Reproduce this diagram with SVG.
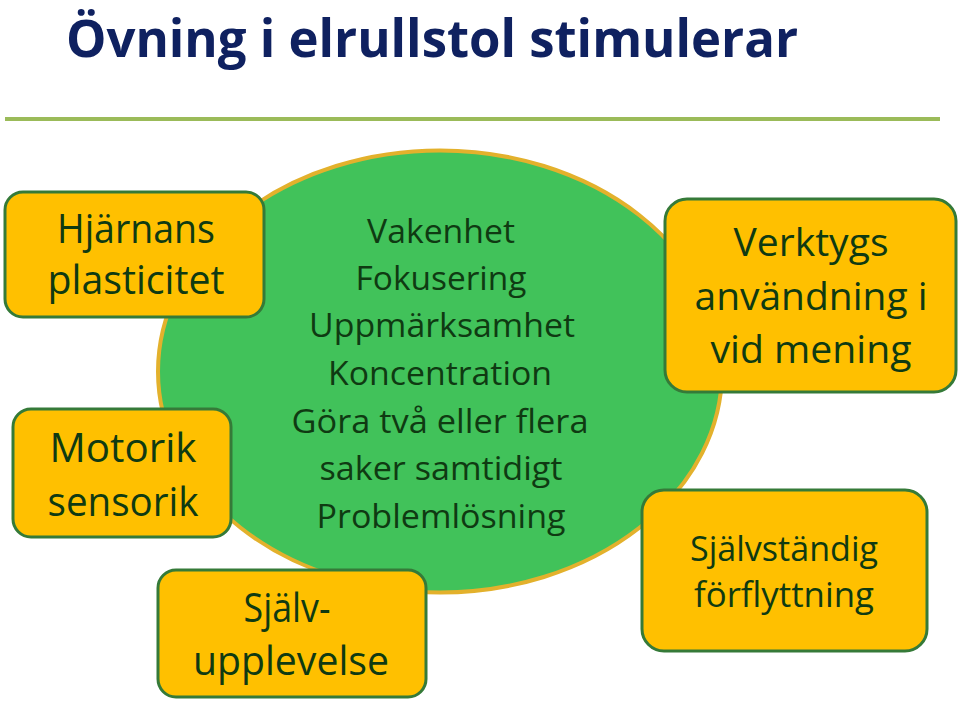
<svg xmlns="http://www.w3.org/2000/svg" width="960" height="704" viewBox="0 0 960 704">
<style>
.box{fill:#FFC000;stroke:#357A38;stroke-width:3}
.t{font-family:"Open Sans","Liberation Sans",sans-serif;fill:#0F3A12;text-anchor:middle}
.title{font-family:"Open Sans","Liberation Sans",sans-serif;font-weight:bold;fill:#0F2160;font-size:52px}
</style>
<rect width="960" height="704" fill="#FFFFFF"/>
<text class="title" x="66" y="57" textLength="732" lengthAdjust="spacingAndGlyphs">Övning i elrullstol stimulerar</text>
<line x1="5" y1="119" x2="940" y2="119" stroke="#9BBB59" stroke-width="4"/>
<g id="connectors"></g>
<g id="center">
<ellipse cx="440" cy="371.5" rx="282" ry="221" fill="#41C25A" stroke="#E3B12C" stroke-width="4"/>
<g class="t" font-size="33">
<text x="441" y="243" textLength="148" lengthAdjust="spacingAndGlyphs">Vakenhet</text>
<text x="441" y="290" textLength="171" lengthAdjust="spacingAndGlyphs">Fokusering</text>
<text x="442" y="337" textLength="266" lengthAdjust="spacingAndGlyphs">Uppmärksamhet</text>
<text x="440" y="385" textLength="224" lengthAdjust="spacingAndGlyphs">Koncentration</text>
<text x="440" y="433" textLength="297" lengthAdjust="spacingAndGlyphs">Göra två eller flera</text>
<text x="441" y="480" textLength="243" lengthAdjust="spacingAndGlyphs">saker samtidigt</text>
<text x="441" y="528" textLength="249" lengthAdjust="spacingAndGlyphs">Problemlösning</text>
</g>
</g>
<g id="plasticitet">
<rect class="box" x="5" y="192" width="259" height="125" rx="18"/>
<text class="t" font-size="41" x="136" y="243" textLength="158" lengthAdjust="spacingAndGlyphs">Hjärnans</text>
<text class="t" font-size="41" x="136" y="294" textLength="177" lengthAdjust="spacingAndGlyphs">plasticitet</text>
</g>
<g id="motorik">
<rect class="box" x="13" y="409" width="218" height="128" rx="18"/>
<text class="t" font-size="40" x="123" y="462" textLength="147" lengthAdjust="spacingAndGlyphs">Motorik</text>
<text class="t" font-size="40" x="123" y="516" textLength="151" lengthAdjust="spacingAndGlyphs">sensorik</text>
</g>
<g id="sjalvupplevelse">
<rect class="box" x="158" y="570" width="268" height="127" rx="18"/>
<text class="t" font-size="40" x="287" y="622" textLength="87" lengthAdjust="spacingAndGlyphs">Själv-</text>
<text class="t" font-size="40" x="291" y="675" textLength="196" lengthAdjust="spacingAndGlyphs">upplevelse</text>
</g>
<g id="verktyg">
<rect class="box" x="665" y="199" width="291" height="193" rx="22"/>
<text class="t" font-size="38" x="811" y="256" textLength="155" lengthAdjust="spacingAndGlyphs">Verktygs</text>
<text class="t" font-size="38" x="811" y="310" textLength="233" lengthAdjust="spacingAndGlyphs">användning i</text>
<text class="t" font-size="38" x="811" y="363" textLength="201" lengthAdjust="spacingAndGlyphs">vid mening</text>
</g>
<g id="forflyttning">
<rect class="box" x="642" y="490" width="285" height="161" rx="22"/>
<text class="t" font-size="34" x="784" y="561" textLength="188" lengthAdjust="spacingAndGlyphs">Självständig</text>
<text class="t" font-size="34" x="784" y="607" textLength="180" lengthAdjust="spacingAndGlyphs">förflyttning</text>
</g>
</svg>
